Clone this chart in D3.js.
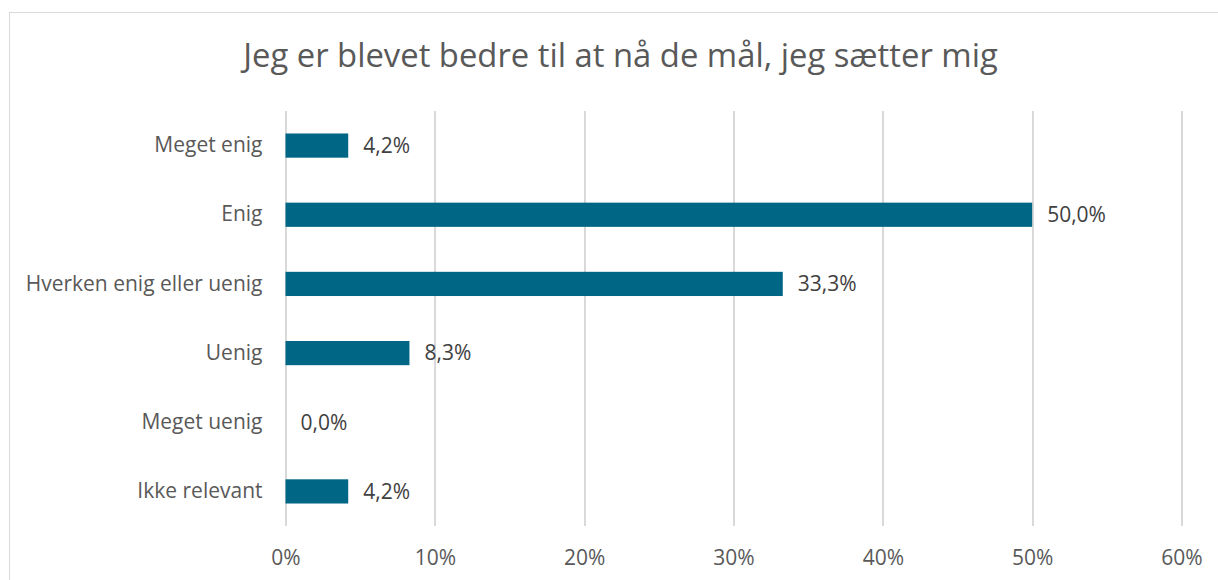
<!DOCTYPE html>
<html>
<head>
<meta charset="utf-8">
<script src="https://cdn.jsdelivr.net/npm/d3@7"></script>
<style>
  body { margin: 0; background: #fff; }
  svg { display: block; font-family: 'Open Sans', sans-serif; }
</style>
</head>
<body>
<svg id="chart" width="1218" height="580"></svg>
<script>
// chart data
var title = 'Jeg er blevet bedre til at nå de mål, jeg sætter mig'
var categories = ['Meget enig', 'Enig', 'Hverken enig eller uenig', 'Uenig', 'Meget uenig', 'Ikke relevant']
var values = [4.2, 50.0, 33.3, 8.3, 0.0, 4.2]
var xTicks = [0, 10, 20, 30, 40, 50, 60]

var svg = d3.select('#chart')
var margin = {top: 111, right: 36.5, bottom: 54, left: 285.5}
var width = 1218 - margin.left - margin.right
var height = 580 - margin.top - margin.bottom
var fontSize = '21px'

// chart frame
svg.append('rect')
  .attr('x', 9.5).attr('y', 12.5)
  .attr('width', 1218).attr('height', 600)
  .attr('fill', '#fff')
  .attr('stroke', '#d9d9d9')
  .attr('stroke-width', 1)

svg.append('text')
  .attr('x', 620.5).attr('y', 67)
  .attr('text-anchor', 'middle')
  .attr('fill', '#595959')
  .style('font-size', '32.8px')
  .text(title)

var g = svg.append('g')
  .attr('transform', 'translate(' + margin.left + ',' + margin.top + ')')

var x = d3.scaleLinear().domain([0, 60]).range([0, width])
var y = d3.scaleBand().domain(categories).range([0, height]).paddingInner(0.65).paddingOuter(0.325)

// gridlines
g.append('g')
  .selectAll('line')
  .data(xTicks)
  .join('line')
  .attr('x1', (d) => Math.round(x(d)) + 0.5)
  .attr('x2', (d) => Math.round(x(d)) + 0.5)
  .attr('y1', 0)
  .attr('y2', height)
  .attr('stroke', '#d9d9d9')
  .attr('stroke-width', 2)

// x axis labels
var xAxis = g.append('g')
  .attr('transform', 'translate(0,' + height + ')')
  .call(d3.axisBottom(x).tickValues(xTicks).tickSize(0).tickPadding(24).tickFormat((d) => d + '%'))
xAxis.select('.domain').remove()
xAxis.selectAll('text')
  .attr('fill', '#595959')
  .style('font-size', fontSize)
  .style('font-family', "'Open Sans', sans-serif")

// y axis labels
var yAxis = g.append('g')
  .call(d3.axisLeft(y).tickSize(0).tickPadding(23))
yAxis.select('.domain').remove()
yAxis.selectAll('text')
  .attr('fill', '#595959')
  .style('font-size', fontSize)
  .style('font-family', "'Open Sans', sans-serif")

// bars
g.append('g')
  .selectAll('rect')
  .data(values)
  .join('rect')
  .attr('x', x(0))
  .attr('y', (d, i) => y(categories[i]))
  .attr('width', (d) => x(d) - x(0))
  .attr('height', y.bandwidth())
  .attr('fill', '#006685')

// value labels
g.append('g')
  .selectAll('text')
  .data(values)
  .join('text')
  .attr('x', (d) => x(d) + 15)
  .attr('y', (d, i) => y(categories[i]) + y.bandwidth() / 2)
  .attr('dy', '0.35em')
  .attr('fill', '#404040')
  .style('font-size', fontSize)
  .text((d) => d.toFixed(1).replace('.', ',') + '%')
</script>
</body>
</html>
